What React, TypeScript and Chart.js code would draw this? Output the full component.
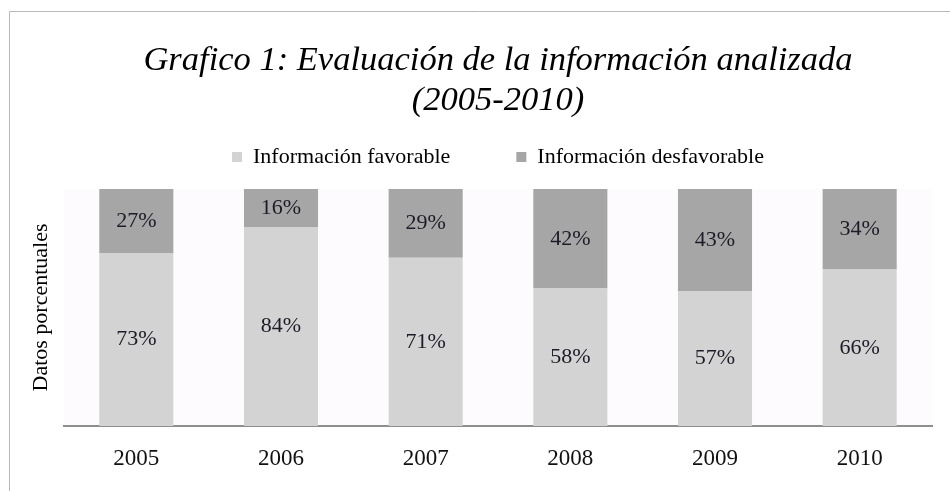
import React, { useEffect, useRef } from "react";
import { Chart, registerables } from "chart.js";

Chart.register(...registerables);

const years = ["2005", "2006", "2007", "2008", "2009", "2010"];
const favorable = [73, 84, 71, 58, 57, 66];
const desfavorable = [27, 16, 29, 42, 43, 34];
const seriesNames = ["Información favorable", "Información desfavorable"];
const titleLines = ["Grafico 1: Evaluación de la información analizada", "(2005-2010)"];
const yTitle = "Datos porcentuales";

const SERIF = "'Liberation Serif', 'Times New Roman', serif";

const framePlugin = {
  id: "frameBg",
  beforeDraw(chart: any) {
    const { ctx, width, height, chartArea } = chart;
    ctx.save();
    ctx.fillStyle = "#ffffff";
    ctx.fillRect(0, 0, width, height);
    ctx.fillStyle = "#fdfbfd";
    ctx.fillRect(chartArea.left, chartArea.top, chartArea.right - chartArea.left, chartArea.bottom - chartArea.top);
    ctx.strokeStyle = "#b8b8b8";
    ctx.lineWidth = 1;
    ctx.beginPath();
    ctx.moveTo(9.5, height);
    ctx.lineTo(9.5, 11.5);
    ctx.lineTo(width, 11.5);
    ctx.stroke();
    ctx.restore();
  },
};

const legendSpacer = {
  id: "legendSpacer",
  beforeInit(chart: any) {
    const lg = chart.legend;
    if (!lg) return;
    const orig = lg.fit;
    lg.fit = function () {
      orig.call(this);
      this.height += 11;
    };
  },
};

const valueLabels = {
  id: "valueLabels",
  afterDatasetsDraw(chart: any) {
    const { ctx } = chart;
    ctx.save();
    ctx.font = `22px ${SERIF}`;
    ctx.fillStyle = "#1c1c28";
    ctx.textAlign = "center";
    ctx.textBaseline = "middle";
    chart.data.datasets.forEach((ds: any, di: number) => {
      const meta = chart.getDatasetMeta(di);
      meta.data.forEach((bar: any, i: number) => {
        const v = ds.data[i];
        const y = (bar.y + bar.base) / 2;
        ctx.fillText(`${v}%`, bar.x, y);
      });
    });
    ctx.restore();
  },
};

export default function App() {
  const ref = useRef<HTMLCanvasElement | null>(null);

  useEffect(() => {
    document.body.style.margin = "0";
    document.body.style.overflow = "hidden";
    const canvas = ref.current;
    if (!canvas) return;
    const chart = new Chart(canvas, {
      type: "bar",
      data: {
        labels: years,
        datasets: [
          {
            label: seriesNames[0],
            data: favorable,
            backgroundColor: "#d3d3d3",
            borderWidth: 0,
            categoryPercentage: 1,
            barPercentage: 0.512,
          },
          {
            label: seriesNames[1],
            data: desfavorable,
            backgroundColor: "#a6a6a6",
            borderWidth: 0,
            categoryPercentage: 1,
            barPercentage: 0.512,
          },
        ],
      },
      options: {
        responsive: false,
        animation: false,
        devicePixelRatio: 1,
        layout: { padding: { left: 20, right: 18, top: 0, bottom: -1.4 } },
        plugins: {
          tooltip: { enabled: false },
          title: {
            display: true,
            text: titleLines,
            fullSize: false,
            color: "#000000",
            font: { family: SERIF, size: 34.5, style: "italic", weight: "normal", lineHeight: "40px" },
            padding: { top: 40.5, bottom: -40.5 },
          },
          legend: {
            display: true,
            position: "top",
            fullSize: false,
            labels: {
              color: "#000000",
              font: { family: SERIF, size: 22 },
              boxWidth: 10,
              boxHeight: 10,
              padding: 66,
            },
          },
        },
        scales: {
          x: {
            stacked: true,
            grid: { display: false, drawTicks: false },
            border: { display: true, color: "#8e8e8e", width: 2 },
            ticks: { color: "#111111", font: { family: SERIF, size: 23, lineHeight: "26.4px" }, padding: 20 },
          },
          y: {
            stacked: true,
            min: 0,
            max: 100,
            grid: { display: false, drawTicks: false },
            border: { display: false },
            ticks: { display: false },
            title: {
              display: true,
              text: yTitle,
              color: "#000000",
              font: { family: SERIF, size: 22 },
              padding: { top: 7.8, bottom: 9.8 },
            },
          },
        },
      },
      plugins: [framePlugin, legendSpacer, valueLabels],
    });
    return () => chart.destroy();
  }, []);

  return (
    <div style={{ width: 950, height: 491, position: "relative", overflow: "hidden" }}>
      <canvas ref={ref} width={950} height={491} style={{ display: "block", width: 950, height: 491 }} />
    </div>
  );
}
